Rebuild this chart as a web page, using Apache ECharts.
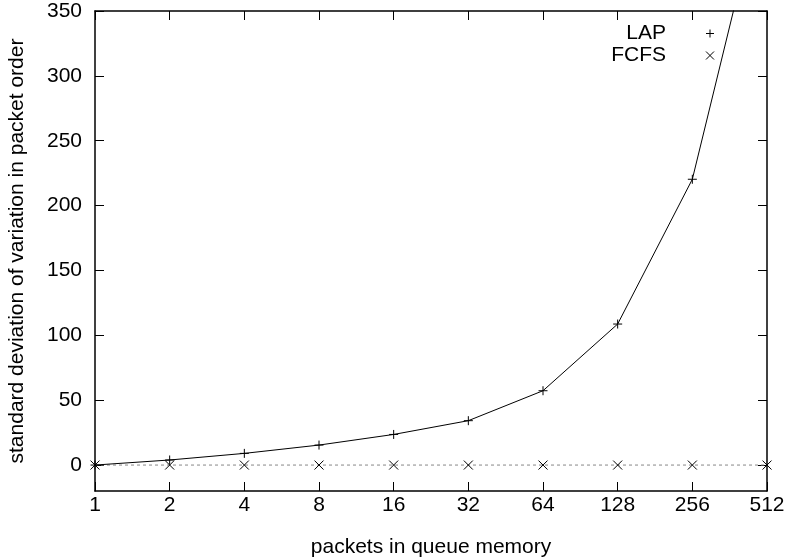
<!DOCTYPE html>
<html>
<head>
<meta charset="utf-8">
<script src="https://cdn.jsdelivr.net/npm/echarts@6/dist/echarts.min.js"></script>
<style>
  html, body { margin: 0; padding: 0; background: #fff; }
  #chart { width: 785px; height: 558px; }
</style>
</head>
<body>
<div id="chart"></div>
<script>
  // packets in queue memory (log2 axis)
  const packets = [1, 2, 4, 8, 16, 32, 64, 128, 256, 512]
  const lap = [0, 3.9, 9, 15.4, 23.6, 34.2, 57.3, 108.7, 220.3, 456]
  const fcfs = [0, 0, 0, 0, 0, 0, 0, 0, 0, 0]
  const yTicks = [0, 50, 100, 150, 200, 250, 300, 350]

  const FONT = 'Liberation Sans'
  const PLUS = 'path://M0,5L10,5M5,0L5,10'
  const CROSS = 'path://M0,0L10,10M10,0L0,10'

  const pairs = (ys) => packets.map((x, i) => [x, ys[i]])

  const tick = (extra) => Object.assign({
    show: true, inside: true, length: 9, lineStyle: { color: '#000', width: 1 }
  }, extra || {})
  const frameLine = () => ({ show: true, onZero: false, lineStyle: { color: '#000', width: 1.5 } })
  const txt = { fontSize: 21, color: '#000', fontFamily: FONT }

  let myChart = echarts.init(document.getElementById('chart'))
  myChart.setOption({
    animation: false,
    grid: { left: 95, right: 18, top: 11, bottom: 67, outerBoundsMode: 'none' },
    legend: {
      right: 64,
      top: 18,
      orient: 'vertical',
      align: 'right',
      itemWidth: 10,
      itemHeight: 10,
      itemGap: 1,
      lineStyle: { opacity: 0 },
      itemStyle: { borderWidth: 1 },
      textStyle: Object.assign({ padding: [0, 34, 0, 0], lineHeight: 18 }, txt),
      data: ['LAP', 'FCFS']
    },
    xAxis: [
      {
        type: 'log',
        logBase: 2,
        min: 1,
        max: 512,
        interval: 1,
        name: 'packets in queue memory',
        nameLocation: 'middle',
        nameGap: 46,
        nameTextStyle: txt,
        axisLine: frameLine(),
        axisTick: tick(),
        splitLine: { show: false },
        axisLabel: Object.assign({ margin: 4 }, txt)
      },
      {
        type: 'log',
        logBase: 2,
        min: 1,
        max: 512,
        interval: 1,
        position: 'top',
        axisLine: frameLine(),
        axisTick: tick(),
        splitLine: { show: false },
        axisLabel: { show: false }
      }
    ],
    yAxis: [
      {
        type: 'value',
        min: -20,
        max: 350,
        name: 'standard deviation of variation in packet order',
        nameLocation: 'middle',
        nameGap: 67,
        nameTextStyle: txt,
        axisLine: frameLine(),
        axisTick: tick({ customValues: yTicks }),
        splitLine: { show: false },
        axisLabel: Object.assign({ margin: 13, customValues: yTicks }, txt)
      },
      {
        type: 'value',
        min: -20,
        max: 350,
        position: 'right',
        axisLine: frameLine(),
        axisTick: tick({ customValues: yTicks }),
        splitLine: { show: false },
        axisLabel: { show: false }
      }
    ],
    series: [
      {
        name: 'LAP',
        type: 'line',
        data: pairs(lap),
        symbol: PLUS,
        symbolSize: 9,
        showAllSymbol: true,
        clip: true,
        itemStyle: { color: '#000', borderColor: '#000', borderWidth: 1 },
        lineStyle: { color: '#000', width: 1 },
        z: 3
      },
      {
        name: 'FCFS',
        type: 'line',
        data: pairs(fcfs),
        symbol: CROSS,
        symbolSize: 9,
        showAllSymbol: true,
        itemStyle: { color: '#000', borderColor: '#000', borderWidth: 1 },
        lineStyle: { color: '#888', width: 1, type: [3, 3] },
        z: 2
      }
    ]
  })
</script>
</body>
</html>
